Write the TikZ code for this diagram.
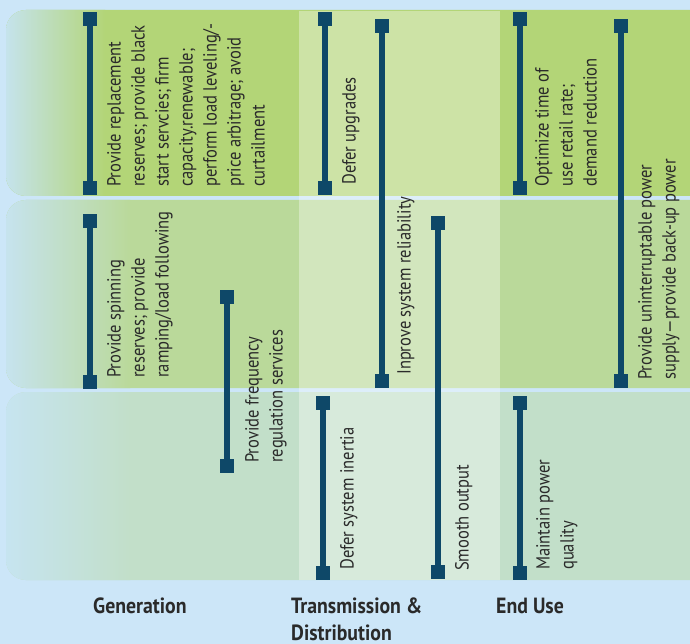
\documentclass[tikz,border=0pt]{standalone}
\usepackage{fontspec}
\setmainfont{PT Sans}[FakeStretch=0.87,BoldFeatures={FakeStretch=0.9}]
\usetikzlibrary{positioning}
\definecolor{skyblue}{HTML}{CCE6F8}
\definecolor{rowone}{HTML}{B3D577}
\definecolor{rowtwo}{HTML}{BAD99A}
\definecolor{rowthree}{HTML}{C2DFC9}
\definecolor{rowonel}{HTML}{C5E3EC}
\definecolor{rowtwol}{HTML}{C6E3EE}
\definecolor{rowthreel}{HTML}{C6E4F0}
\definecolor{barblue}{HTML}{0E4868}
\definecolor{inkgray}{HTML}{2A2A2A}
\tikzset{band/.style={rounded corners=20pt}}
\tikzset{barcap/.style={rectangle,fill=barblue,minimum width=14pt,minimum height=14pt,inner sep=0pt}}
\tikzset{bar/.style={draw=barblue,line width=6pt}}
\tikzset{service/.style={rotate=90,anchor=north west,align=left,inner sep=0pt,text=inkgray,font=\fontsize{19}{24}\selectfont}}
\tikzset{sector/.style={anchor=base west,align=left,inner sep=0pt,text=inkgray,font=\fontsize{22}{27}\selectfont\bfseries}}
\begin{document}
\begin{tikzpicture}[x=1pt,y=-1pt]
\clip (0,0) rectangle (690,644);
\fill[skyblue] (0,0) rectangle (690,644);
% the three bands
\fill[rowone,band] (6,10) rectangle (720,196);
\fill[rowtwo,band] (6,200) rectangle (720,388);
\fill[rowthree,band] (6,392) rectangle (720,580);
\begin{scope}
	\clip[band] (6,10) rectangle (720,196);
	\shade[left color=rowonel,right color=rowone] (6,10) rectangle (105,196);
\end{scope}
\begin{scope}
	\clip[band] (6,200) rectangle (720,388);
	\shade[left color=rowtwol,right color=rowtwo] (6,200) rectangle (130,388);
\end{scope}
\begin{scope}
	\clip[band] (6,392) rectangle (720,580);
	\shade[left color=rowthreel,right color=rowthree] (6,392) rectangle (130,580);
\end{scope}
\fill[white,opacity=0.35] (299,11) rectangle (500,580);
% generation
\node (g1t) [barcap] at (90,19) {};
\node (g1b) [barcap] at (90,188) {};
\draw[bar] (g1t) -- (g1b);
\node (g1) [service] at (107,187) {Provide replacement\\reserves; provide black\\start servcies; firm\\capacity.renewable;\\perform load leveling/-\\price arbitrage; avoid\\curtailment};
\node (g2t) [barcap] at (90,221) {};
\node (g2b) [barcap] at (90,382) {};
\draw[bar] (g2t) -- (g2b);
\node (g2) [service] at (107,378) {Provide spinning\\reserves; provide\\ramping/load following};
\node (g3t) [barcap] at (227,297) {};
\node (g3b) [barcap] at (227,466) {};
\draw[bar] (g3t) -- (g3b);
\node (g3) [service] at (245,463) {Provide frequency\\regulation services};
% transmission & distribution
\node (t1t) [barcap] at (325,19) {};
\node (t1b) [barcap] at (325,188) {};
\draw[bar] (t1t) -- (t1b);
\node (t1) [service] at (342,185) {Defer upgrades};
\node (t2t) [barcap] at (382,26) {};
\node (t2b) [barcap] at (382,381) {};
\draw[bar] (t2t) -- (t2b);
\node (t2) [service] at (397,375) {Inprove system reliability};
\node (t3t) [barcap] at (438,223) {};
\node (t3b) [barcap] at (438,572) {};
\draw[bar] (t3t) -- (t3b);
\node (t3) [service] at (455,571) {Smooth output};
\node (t4t) [barcap] at (323,403) {};
\node (t4b) [barcap] at (323,573) {};
\draw[bar] (t4t) -- (t4b);
\node (t4) [service] at (340,570) {Defer system inertia};
% end use
\node (e1t) [barcap] at (520,19) {};
\node (e1b) [barcap] at (520,188) {};
\draw[bar] (e1t) -- (e1b);
\node (e1) [service] at (535,187) {Optimize time of\\use retail rate;\\demand reduction};
\node (e2t) [barcap] at (621,26) {};
\node (e2b) [barcap] at (621,381) {};
\draw[bar] (e2t) -- (e2b);
\node (e2) [service] at (638,380) {Provide uninterruptable power\\supply—provide back-up power};
\node (e3t) [barcap] at (520,403) {};
\node (e3b) [barcap] at (520,573) {};
\draw[bar] (e3t) -- (e3b);
\node (e3) [service] at (536,570) {Maintain power\\quality};
% sector names
\node (gen) [sector] at (93,613) {Generation};
\node (tnd) [sector] at (291,640) {Transmission \&\\Distribution};
\node (end) [sector] at (496,613) {End Use};
\end{tikzpicture}
\end{document}
